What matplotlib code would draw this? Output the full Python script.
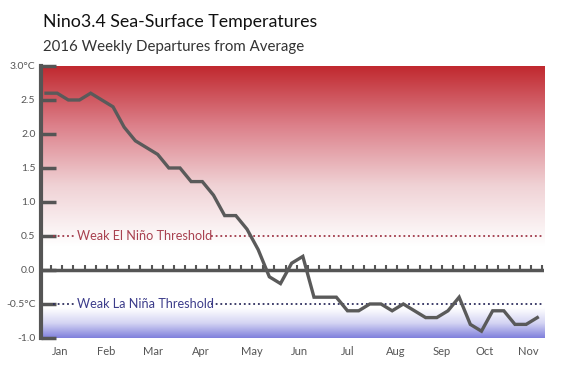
import numpy as np
import matplotlib
matplotlib.use('Agg')
import matplotlib.pyplot as plt
from matplotlib.colors import LinearSegmentedColormap

plt.rcParams['font.family'] = ['Lato', 'DejaVu Sans']

# weekly Nino3.4 departures, 2016 (week index 0..44)
anom = [2.6, 2.6, 2.5, 2.5, 2.6, 2.5, 2.4, 2.1, 1.9, 1.8,
        1.7, 1.5, 1.5, 1.3, 1.3, 1.1, 0.8, 0.8, 0.6, 0.3,
        -0.1, -0.2, 0.1, 0.2, -0.4, -0.4, -0.4, -0.6, -0.6, -0.5,
        -0.5, -0.6, -0.5, -0.6, -0.7, -0.7, -0.6, -0.4, -0.8, -0.9,
        -0.6, -0.6, -0.8, -0.8, -0.7]
weeks = np.arange(len(anom))

months = ['Jan', 'Feb', 'Mar', 'Apr', 'May', 'Jun', 'Jul', 'Aug', 'Sep', 'Oct', 'Nov']
month_pos = [1.25, 5.35, 9.55, 13.9, 18.4, 22.7, 27.0, 31.3, 35.4, 39.3, 43.2]

yticks = [3.0, 2.5, 2.0, 1.5, 1.0, 0.5, 0.0, -0.5, -1.0]
ylabels = ['3.0°C', '2.5', '2.0', '1.5', '1.0', '0.5', '0.0', '-0.5°C', '-1.0']

el_nino = 0.5
la_nina = -0.5

fig = plt.figure(figsize=(5.7, 3.79), dpi=100)
ax = fig.add_axes([0.0719, 0.1082, 0.8825, 0.7177])
x0, x1 = -0.45, 44.6
ax.set_xlim(x0, x1)
ax.set_ylim(-1.0, 3.0)

# background gradients
reds = LinearSegmentedColormap.from_list('r', ['#ffffff', '#f0d2d5', '#dc808a', '#c0272d'])
g = np.linspace(0, 1, 256).reshape(-1, 1)
ax.imshow(g, extent=[x0, x1, 0.35, 3.0], origin='lower', cmap=reds,
          aspect='auto', zorder=0)
blues = LinearSegmentedColormap.from_list('b', ['#ffffff', '#d4d4f3', '#7f7fdc'])
ax.imshow(g, extent=[x0, x1, -0.56, -1.0], origin='lower', cmap=blues,
          aspect='auto', zorder=0)

# thresholds
for y, col, tcol, lbl in [(el_nino, '#a03848', '#a8404f', 'Weak El Niño Threshold'),
                          (la_nina, '#2e2e5e', '#3c3c8a', 'Weak La Niña Threshold')]:
    ax.plot([0.65, 2.5], [y, y], color=col, lw=1.3, ls=(0, (1, 1.6)), zorder=2)
    ax.plot([14.75, 44.5], [y, y], color=col, lw=1.3, ls=(0, (1, 1.6)), zorder=2)
    ax.text(2.75, y, lbl, color=tcol, fontsize=9.1, va='center', ha='left', zorder=3)

# zero line with weekly ticks
ax.axhline(0, color='#555555', lw=2.5, zorder=3)
ax.vlines(weeks + 0.45, 0, 0.08, color='#555555', lw=1.5, zorder=3)

ax.plot(weeks, anom, color='#5a5a5a', lw=2.4, zorder=4, solid_joinstyle='miter')

for s in ['top', 'right', 'bottom']:
    ax.spines[s].set_visible(False)
ax.spines['left'].set_color('#555555')
ax.spines['left'].set_linewidth(3)

ax.set_yticks(yticks)
ax.set_yticklabels(ylabels)
ax.tick_params(axis='y', direction='in', length=11, width=2.5, color='#555555',
               labelsize=7.5, labelcolor='#555555', pad=4)
ax.set_xticks(month_pos)
ax.set_xticklabels(months)
ax.tick_params(axis='x', length=0, labelsize=8, labelcolor='#555555', pad=6)

fig.text(0.0754, 0.942, 'Nino3.4 Sea-Surface Temperatures', fontsize=12.8,
         color='#111111', va='center', ha='left')
fig.text(0.0754, 0.877, '2016 Weekly Departures from Average', fontsize=10.8,
         color='#333333', va='center', ha='left')

fig.savefig('out.png', dpi=100)
